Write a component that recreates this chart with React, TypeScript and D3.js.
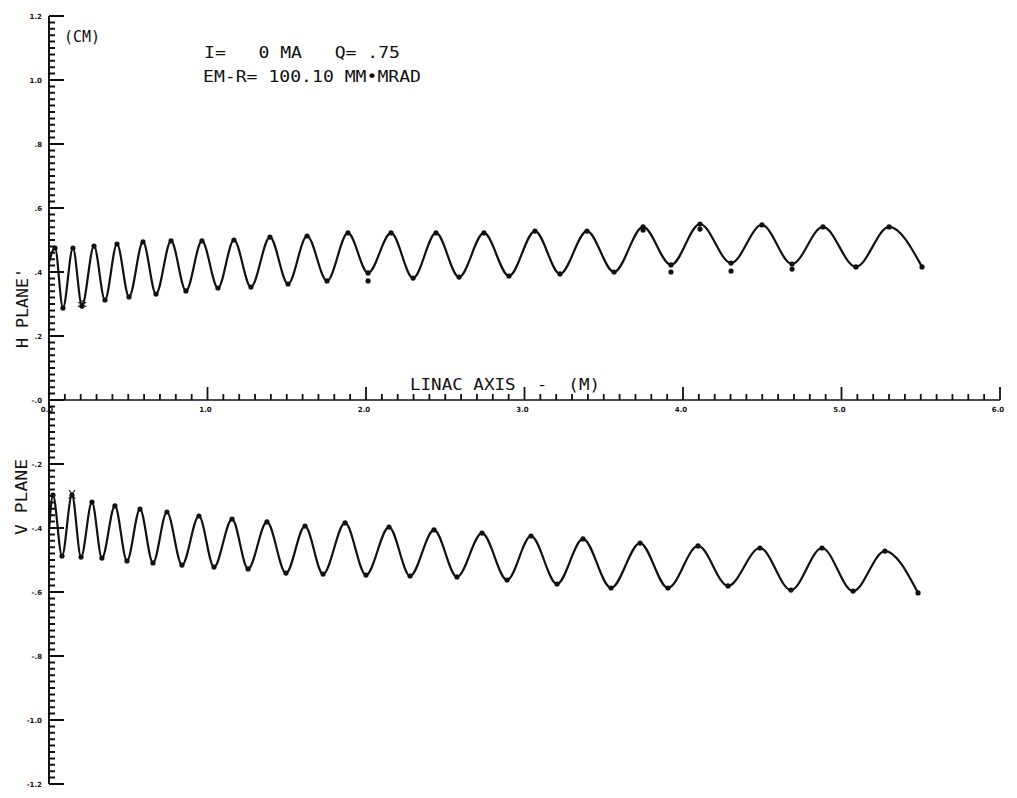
import React, { useEffect, useRef } from "react";
import * as d3 from "d3";

// H plane envelope: extrema along the linac (m, cm)
const hPosM = [0.0, 0.038, 0.088, 0.151, 0.208, 0.284, 0.353, 0.429, 0.505, 0.593, 0.675, 0.77, 0.864, 0.965, 1.066, 1.167, 1.274, 1.394, 1.508, 1.628, 1.754, 1.886, 2.013, 2.158, 2.297, 2.442, 2.587, 2.744, 2.902, 3.066, 3.224, 3.394, 3.565, 3.748, 3.924, 4.107, 4.303, 4.498, 4.688, 4.883, 5.091, 5.3, 5.508];
const hValCm = [0.43, 0.475, 0.2875, 0.475, 0.294, 0.481, 0.3125, 0.4875, 0.322, 0.494, 0.331, 0.497, 0.341, 0.497, 0.35, 0.5, 0.353, 0.509, 0.3625, 0.5125, 0.372, 0.522, 0.397, 0.522, 0.381, 0.522, 0.384, 0.522, 0.3875, 0.528, 0.394, 0.528, 0.4, 0.541, 0.422, 0.55, 0.428, 0.547, 0.425, 0.541, 0.416, 0.541, 0.416];
// dots that sit off the H curve
const hLooseM = [2.013, 3.748, 3.924, 4.107, 4.303, 4.688];
const hLooseCm = [0.372, 0.531, 0.4, 0.534, 0.403, 0.409];

// V plane envelope
const vPosM = [0.0, 0.025, 0.082, 0.145, 0.202, 0.271, 0.334, 0.416, 0.492, 0.574, 0.656, 0.744, 0.839, 0.946, 1.041, 1.155, 1.256, 1.375, 1.495, 1.615, 1.729, 1.868, 2.0, 2.145, 2.278, 2.429, 2.574, 2.732, 2.89, 3.041, 3.205, 3.369, 3.546, 3.729, 3.905, 4.095, 4.284, 4.486, 4.681, 4.877, 5.073, 5.274, 5.483];
const vValCm = [-0.41, -0.297, -0.4875, -0.297, -0.491, -0.319, -0.494, -0.331, -0.503, -0.341, -0.509, -0.35, -0.516, -0.3625, -0.522, -0.372, -0.528, -0.381, -0.541, -0.394, -0.544, -0.384, -0.547, -0.397, -0.55, -0.406, -0.553, -0.416, -0.5625, -0.425, -0.575, -0.434, -0.5875, -0.447, -0.5875, -0.456, -0.581, -0.4625, -0.594, -0.4625, -0.597, -0.472, -0.603];

const yMajor = [1.2, 1.0, 0.8, 0.6, 0.4, 0.2, 0, -0.2, -0.4, -0.6, -0.8, -1.0, -1.2];
const yLabels = ["1.2", "1.0", ".8", ".6", ".4", ".2", "-.0", "-.2", "-.4", "-.6", "-.8", "-1.0", "-1.2"];
const xMajor = [0, 1, 2, 3, 4, 5, 6];
const xLabels = ["0.0", "1.0", "2.0", "3.0", "4.0", "5.0", "6.0"];

const W = 1017;
const H = 798;

const App = () => {
  const svgRef = useRef<SVGSVGElement>(null);

  useEffect(() => {
    const svg = d3.select(svgRef.current);
    svg.selectAll("*").remove();

    const x = d3.scaleLinear().domain([0, 6]).range([49, 1000]);
    const y = d3.scaleLinear().domain([-1.2, 1.2]).range([784, 16]);
    const ink = "#111";
    const x0 = x(0);
    const y0 = y(0);

    // axis lines
    svg.append("line").attr("x1", x0).attr("x2", x0).attr("y1", y(1.2)).attr("y2", y(-1.2))
      .attr("stroke", ink).attr("stroke-width", 2);
    svg.append("line").attr("x1", x0).attr("x2", x(6)).attr("y1", y0).attr("y2", y0)
      .attr("stroke", ink).attr("stroke-width", 1.6);

    // y ticks: every .02, longer every .2 -- one path built from the scale
    const yTicks = d3.range(-60, 61).map((i) => i / 50);
    const yTickPath = d3.path();
    yTicks.forEach((d, i) => {
      yTickPath.moveTo(x0, y(d));
      yTickPath.lineTo(x0 + (i % 10 === 0 ? 15 : 6), y(d));
    });
    svg.append("path").attr("d", yTickPath.toString())
      .attr("fill", "none").attr("stroke", ink).attr("stroke-width", 2);

    // x ticks: every .1 m pointing up, longer every metre
    const xTicks = d3.range(0, 61).map((i) => i / 10);
    const xTickPath = d3.path();
    xTicks.forEach((d, i) => {
      xTickPath.moveTo(x(d), y0);
      xTickPath.lineTo(x(d), y0 - (i % 10 === 0 ? 13 : 6));
    });
    svg.append("path").attr("d", xTickPath.toString())
      .attr("fill", "none").attr("stroke", ink).attr("stroke-width", 1.8);

    svg.append("g")
      .selectAll("text")
      .data(yMajor)
      .join("text")
      .attr("x", 42)
      .attr("y", (d) => y(d) + 3)
      .attr("text-anchor", "end")
      .attr("font-family", "DejaVu Sans")
      .attr("font-weight", "bold")
      .attr("font-size", 7)
      .attr("fill", ink)
      .text((d, i) => yLabels[i]);

    svg.append("g")
      .selectAll("text")
      .data(xMajor)
      .join("text")
      .attr("x", (d) => x(d) - 2)
      .attr("y", y0 + 12)
      .attr("text-anchor", "middle")
      .attr("font-family", "DejaVu Sans")
      .attr("font-weight", "bold")
      .attr("font-size", 7)
      .attr("fill", ink)
      .text((d, i) => xLabels[i]);

    const line = d3
      .line<number>()
      .x((d) => x(d))
      .curve(d3.curveMonotoneX);

    svg.append("path")
      .attr("d", line.y((d, i) => y(hValCm[i]))(hPosM))
      .attr("fill", "none")
      .attr("stroke", ink)
      .attr("stroke-width", 2.2);
    svg.append("path")
      .attr("d", line.y((d, i) => y(vValCm[i]))(vPosM))
      .attr("fill", "none")
      .attr("stroke", ink)
      .attr("stroke-width", 2.2);

    const dots = (xs: number[], ys: number[]) =>
      svg.append("g")
        .selectAll("circle")
        .data(xs)
        .join("circle")
        .attr("cx", (d) => x(d))
        .attr("cy", (d, i) => y(ys[i]))
        .attr("r", 2.6)
        .attr("fill", ink);
    dots(hPosM.slice(1), hValCm.slice(1));
    dots(vPosM.slice(1), vValCm.slice(1));
    dots(hLooseM, hLooseCm);

    // markers on the first cells
    svg.append("text")
      .attr("x", x(hPosM[4]))
      .attr("y", y(hValCm[4]) + 8)
      .attr("text-anchor", "middle")
      .attr("font-family", "DejaVu Sans")
      .attr("font-size", 20)
      .attr("fill", ink)
      .text("*");
    svg.append("text")
      .attr("x", x(vPosM[3]))
      .attr("y", y(vValCm[3]) + 4)
      .attr("text-anchor", "middle")
      .attr("font-family", "DejaVu Sans")
      .attr("font-size", 12)
      .attr("fill", ink)
      .text("X");

    const label = (tx: number, ty: number, s: string, len: number, size = 15) =>
      svg.append("text")
        .attr("x", tx)
        .attr("y", ty)
        .attr("font-family", "DejaVu Sans Mono")
        .attr("font-size", size)
        .attr("textLength", len)
        .attr("lengthAdjust", "spacingAndGlyphs")
        .attr("fill", ink)
        .style("white-space", "pre")
        .text(s);

    label(64, 42, "(CM)", 36, 16);
    label(204, 58, "I=   0 MA   Q= .75", 196);
    label(203, 82, "EM-R= 100.10 MM\u2022MRAD", 218);
    label(410, 390, "LINAC AXIS  -  (M)", 190);

    const sideLabel = (cx: number, cy: number, s: string, len: number) =>
      svg.append("text")
        .attr("transform", `translate(${cx},${cy}) rotate(-90)`)
        .attr("text-anchor", "middle")
        .attr("font-family", "DejaVu Sans Mono")
        .attr("font-size", 16)
        .attr("textLength", len)
        .attr("lengthAdjust", "spacingAndGlyphs")
        .attr("fill", ink)
        .text(s);
    sideLabel(28, 308, "H PLANE'", 80);
    sideLabel(27, 497, "V PLANE", 76);
  }, []);

  return (
    <svg ref={svgRef} width={W} height={H} style={{ position: "absolute", left: 0, top: 0, background: "#fff" }} />
  );
};

export default App;
